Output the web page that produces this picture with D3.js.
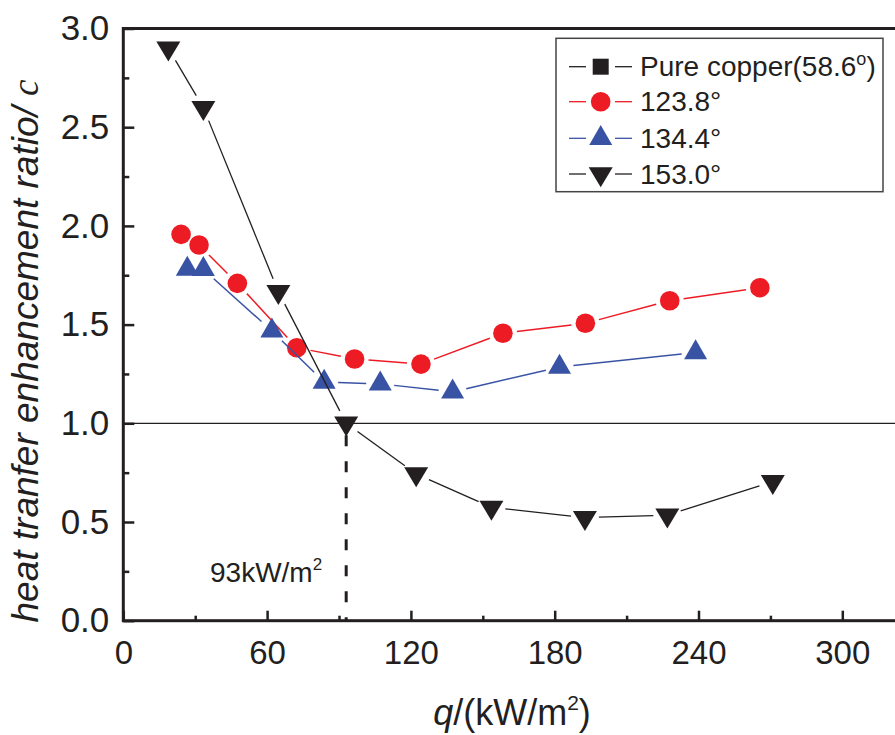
<!DOCTYPE html>
<html>
<head>
<meta charset="utf-8">
<script src="https://cdn.jsdelivr.net/npm/d3@7"></script>
<style>
  body { margin: 0; background: #fff; }
  text { font-family: "Liberation Sans", Arial, sans-serif; fill: #231f20; }
</style>
</head>
<body>
<svg id="chart" width="895" height="735"></svg>
<script>
// heat flux q (kW/m2) and enhancement ratio for each contact angle
var q123 = [24.1, 31.6, 47.6, 72.4, 96.5, 124.2, 158.4, 192.8, 228, 265.6];
var r123 = [1.957, 1.903, 1.709, 1.383, 1.326, 1.30, 1.456, 1.507, 1.621, 1.687];

var q134 = [26.7, 33.4, 62, 83.8, 107.2, 137.4, 182, 238.8];
var r134 = [1.782, 1.78, 1.468, 1.209, 1.20, 1.159, 1.285, 1.358];

var q153 = [18.8, 33.4, 64.7, 93, 122.2, 153.6, 192.6, 227, 271];
var r153 = [2.90, 2.599, 1.667, 1.0, 0.743, 0.574, 0.522, 0.535, 0.704];

var legendNames = ["Pure copper(58.6", "123.8°", "134.4°", "153.0°"];
var xTicks = [0, 60, 120, 180, 240, 300];
var xMinor = [30, 90, 150, 210, 270];
var yTicks = [0, 0.5, 1.0, 1.5, 2.0, 2.5, 3.0];
var yMinor = [0.25, 0.75, 1.25, 1.75, 2.25, 2.75];
var crossQ = 93;

var red = "#ed1c24", blue = "#3953a4", black = "#231f20";

var svg = d3.select("#chart");
var x = d3.scaleLinear().domain([0, 330]).range([123.3, 914.2]);
var y = d3.scaleLinear().domain([0, 3]).range([620.7, 28.5]);

// inward minor ticks
svg.append("g").attr("transform", "translate(0," + y(0) + ")")
    .call(d3.axisBottom(x).tickValues(xMinor).tickSize(-5).tickSizeOuter(0).tickFormat(""))
    .call(g => g.select(".domain").remove());
svg.append("g").attr("transform", "translate(" + x(0) + ",0)")
    .call(d3.axisLeft(y).tickValues(yMinor).tickSize(-6).tickSizeOuter(0).tickFormat(""))
    .call(g => g.select(".domain").remove());

// major ticks + labels
var gx = svg.append("g").attr("transform", "translate(0," + y(0) + ")")
    .call(d3.axisBottom(x).tickValues(xTicks).tickSize(-10).tickSizeOuter(0).tickPadding(20).tickFormat(d3.format("d")));
gx.select(".domain").remove();
gx.selectAll("text").style("font-size", "33px").attr("fill", black);

var gy = svg.append("g").attr("transform", "translate(" + x(0) + ",0)")
    .call(d3.axisLeft(y).tickValues(yTicks).tickSize(-11).tickSizeOuter(0).tickPadding(14).tickFormat(d3.format(".1f")));
gy.select(".domain").remove();
gy.selectAll("text").style("font-size", "35px").attr("fill", black);

svg.selectAll(".tick line").attr("stroke", black).attr("stroke-width", 2.5);

// frame
svg.append("rect")
    .attr("x", x(0)).attr("y", y(3))
    .attr("width", x(330) - x(0)).attr("height", y(0) - y(3))
    .attr("fill", "none").attr("stroke", black).attr("stroke-width", 3);

// reference line at ratio = 1
svg.append("line")
    .attr("x1", x(0)).attr("x2", x(330))
    .attr("y1", y(1)).attr("y2", y(1))
    .attr("stroke", black).attr("stroke-width", 1.3);

// dashed marker at crossing point
svg.append("line")
    .attr("x1", x(crossQ)).attr("x2", x(crossQ))
    .attr("y1", y(1) + 12).attr("y2", y(0))
    .attr("stroke", black).attr("stroke-width", 3)
    .attr("stroke-dasharray", "11,15");

svg.append("text")
    .attr("x", 210).attr("y", 581.7)
    .style("font-size", "28px")
    .text("93kW/m")
    .append("tspan").attr("dy", -12).style("font-size", "17px").text("2");

// symbols
var upTri = "M0,-13.3L11.5,6.7L-11.5,6.7Z";
var downTri = "M0,13.3L12,-6.7L-12,-6.7Z";

function drawSeries(qs, rs, color, lw, gap, drawMark) {
    var pts = qs.map((d, i) => [x(d), y(rs[i])]);
    var segs = [];
    for (var i = 0; i < pts.length - 1; i++) {
        var a = pts[i], b = pts[i + 1];
        var dx = b[0] - a[0], dy = b[1] - a[1];
        var len = Math.sqrt(dx * dx + dy * dy);
        if (len <= 2 * gap) continue;
        var ux = dx / len, uy = dy / len;
        segs.push([a[0] + ux * gap, a[1] + uy * gap, b[0] - ux * gap, b[1] - uy * gap]);
    }
    var g = svg.append("g");
    g.selectAll("line").data(segs).join("line")
        .attr("x1", d => d[0]).attr("y1", d => d[1])
        .attr("x2", d => d[2]).attr("y2", d => d[3])
        .attr("stroke", color).attr("stroke-width", lw);
    g.selectAll(".m").data(pts).join(p => drawMark(p, color));
}

function circleMark(sel, color) {
    return sel.append("circle").attr("class", "m")
        .attr("cx", d => d[0]).attr("cy", d => d[1]).attr("r", 9.8).attr("fill", color);
}
function pathMark(shape) {
    return function (sel, color) {
        return sel.append("path").attr("class", "m")
            .attr("d", shape)
            .attr("transform", d => "translate(" + d[0] + "," + d[1] + ")")
            .attr("fill", color);
    };
}

drawSeries(q123, r123, red, 1.5, 14, circleMark);
drawSeries(q134, r134, blue, 1.5, 14, pathMark(upTri));
drawSeries(q153, r153, black, 1.3, 14, pathMark(downTri));

// legend
var leg = svg.append("g");
leg.append("rect")
    .attr("x", 556).attr("y", 38.3).attr("width", 327).attr("height", 153.4)
    .attr("fill", "#fff").attr("stroke", "#444").attr("stroke-width", 1.5);

var legRows = [66.7, 101.7, 138.3, 174];
var legColors = [black, red, blue, black];
var legMarks = [
    g => g.append("rect").attr("x", -8).attr("y", -8).attr("width", 16).attr("height", 16),
    g => g.append("circle").attr("r", 9.8),
    g => g.append("path").attr("d", upTri),
    g => g.append("path").attr("d", downTri)
];
legRows.forEach((ry, i) => {
    var c = legColors[i];
    leg.append("line").attr("x1", 569).attr("x2", 586).attr("y1", ry).attr("y2", ry)
        .attr("stroke", c).attr("stroke-width", 1.3);
    leg.append("line").attr("x1", 615).attr("x2", 632).attr("y1", ry).attr("y2", ry)
        .attr("stroke", c).attr("stroke-width", 1.3);
    var mg = leg.append("g").attr("transform", "translate(600.7," + ry + ")").attr("fill", c);
    legMarks[i](mg);
    var t = leg.append("text").attr("x", 640).attr("y", ry + 9.5)
        .style("font-size", "28px").text(legendNames[i]);
    if (i == 0) {
        t.append("tspan").attr("dy", -11).style("font-size", "18px").text("o");
        t.append("tspan").attr("dy", 11).text(")");
    }
});

// axis titles
var xt = svg.append("text")
    .attr("x", 512).attr("y", 725)
    .attr("text-anchor", "middle")
    .style("font-size", "36px");
xt.append("tspan").style("font-style", "italic").text("q");
xt.append("tspan").text("/(kW/m");
xt.append("tspan").attr("dy", -15).style("font-size", "21px").text("2");
xt.append("tspan").attr("dy", 15).text(")");

var yt = svg.append("text")
    .attr("transform", "translate(38,351) rotate(-90)")
    .attr("text-anchor", "middle")
    .style("font-size", "37px").style("font-style", "italic");
yt.append("tspan").text("heat tranfer enhancement ratio/ ");
yt.append("tspan").style("font-family", "'Liberation Serif', serif").text("c");
</script>
</body>
</html>
